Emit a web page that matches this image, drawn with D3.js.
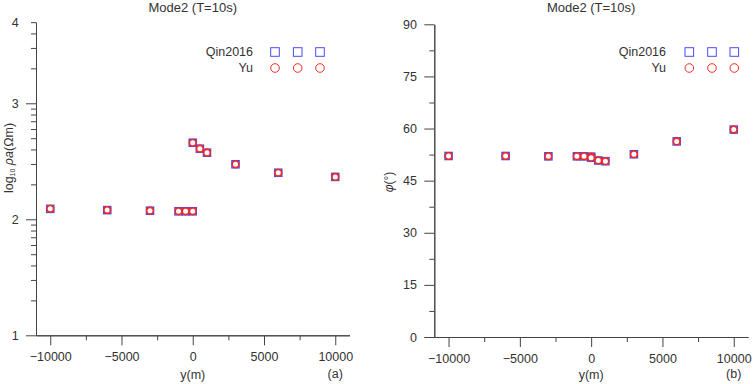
<!DOCTYPE html>
<html>
<head>
<meta charset="utf-8">
<script src="https://cdn.jsdelivr.net/npm/d3@7"></script>
<style>
  body { margin: 0; background: #fff; }
  svg text { font-family: "Liberation Sans", Arial, sans-serif; fill: #333; }
</style>
</head>
<body>
<svg id="chart" width="754" height="384"></svg>
<script>
// ---- data ----
const title = "Mode2 (T=10s)";
const yPositions = [-10000, -6000, -3000, -1000, -500, 0, 0, 500, 1000, 3000, 6000, 10000];
const rhoQin2016 = [123, 120, 118.6, 117.2, 117.2, 117.2, 457, 406, 375, 298, 252, 232];
const rhoYu      = [123, 120, 118.6, 117.2, 117.2, 117.2, 457, 406, 375, 298, 252, 232];
const phaseQin2016 = [52.1, 52.1, 52.0, 52.0, 52.0, 51.9, 51.6, 50.8, 50.6, 52.6, 56.3, 59.7];
const phaseYu      = [52.1, 52.1, 52.0, 52.0, 52.0, 51.9, 51.6, 50.8, 50.6, 52.6, 56.3, 59.7];
const xTicks = [-10000, -5000, 0, 5000, 10000];
const xMinorTicks = [-7500, -2500, 2500, 7500];
const rhoTicks = [10, 100, 1000, 5000];
const rhoTickLabels = ["1", "2", "3", "4"];
const rhoMinorTicks = [20,30,40,50,60,70,80,90,200,300,400,500,600,700,800,900,2000,3000,4000];
const phaseTicks = [0, 15, 30, 45, 60, 75, 90];
const phaseMinorTicks = [7.5, 22.5, 37.5, 52.5, 67.5, 82.5];
const seriesNames = ["Qin2016", "Yu"];

const svg = d3.select("#chart");
const axisColor = "#444";
const blue = "#4b4bf0";
const red = "#f02a2a";

function panel(opts) {
  const g = svg.append("g");
  const x = d3.scaleLinear().domain([-11000, 11000]).range([opts.left, opts.right]);
  const y = opts.y;

  // x axis
  const xa = g.append("g").attr("transform", `translate(0,${opts.bottom})`)
    .call(d3.axisBottom(x).tickValues(xTicks).tickSize(10).tickSizeOuter(0).tickFormat(d3.format("d")));
  xa.selectAll("text").attr("font-size", 12.5).attr("dy", "1.0em");
  g.append("g").attr("transform", `translate(0,${opts.bottom})`)
    .call(d3.axisBottom(x).tickValues(xMinorTicks).tickSize(5).tickSizeOuter(0).tickFormat(""));

  // y axis
  const ya = g.append("g").attr("transform", `translate(${opts.left},0)`)
    .call(d3.axisLeft(y).tickValues(opts.yTicks).tickSize(10).tickSizeOuter(0)
      .tickFormat((d, i) => opts.yLabels ? opts.yLabels[i] : d));
  ya.selectAll("text").attr("font-size", 12.5).attr("dx", "-0.35em");
  if (opts.shortTick) {
    ya.selectAll(".tick line").filter(d => d === opts.shortTick).attr("x2", -5);
  }
  g.append("g").attr("transform", `translate(${opts.left},0)`)
    .call(d3.axisLeft(y).tickValues(opts.yMinor).tickSize(5).tickSizeOuter(0).tickFormat(""));

  g.selectAll(".domain").attr("stroke", axisColor);
  g.selectAll(".tick line").attr("stroke", axisColor);
  g.selectAll(".tick text").style("fill", "#333");

  // title
  g.append("text").attr("x", x(0)).attr("y", 12).attr("text-anchor", "middle")
    .attr("font-size", 13).text(title);
  // x label
  g.append("text").attr("x", x(0)).attr("y", 379).attr("text-anchor", "middle")
    .attr("font-size", 12.5).text("y(m)");
  g.append("text").attr("x", x(10000)).attr("y", 378).attr("text-anchor", "middle")
    .attr("font-size", 12.5).text(opts.tag);

  // y label
  opts.yLabel(g);

  // data
  const pts = yPositions.map((p, i) => ({ p, a: opts.s1[i], b: opts.s2[i] }));
  g.selectAll("rect.q").data(pts).join("rect").attr("class", "q")
    .attr("x", d => x(d.p) - 3.6).attr("y", d => y(d.a) - 3.6)
    .attr("width", 7.2).attr("height", 7.2)
    .attr("fill", "none").attr("stroke", blue).attr("stroke-width", 1.4);
  g.selectAll("circle.yu").data(pts).join("circle").attr("class", "yu")
    .attr("cx", d => x(d.p)).attr("cy", d => y(d.b)).attr("r", 3.3)
    .attr("fill", "#fff").attr("stroke", red).attr("stroke-width", 1.6);

  // legend
  const lg = g.append("g");
  const rows = [52, 68];
  lg.selectAll("text.lt").data(seriesNames).join("text")
    .attr("x", opts.legendText).attr("y", (d, i) => rows[i]).attr("dy", "0.35em")
    .attr("text-anchor", "end").attr("font-size", 12.5).text(d => d);
  opts.legendMarks.forEach(mx => {
    lg.append("rect").attr("x", mx - 4.3).attr("y", rows[0] - 4.3).attr("width", 8.6).attr("height", 8.6)
      .attr("fill", "none").attr("stroke", blue).attr("stroke-width", 1);
    lg.append("circle").attr("cx", mx).attr("cy", rows[1]).attr("r", 4.3)
      .attr("fill", "none").attr("stroke", red).attr("stroke-width", 1);
  });
}

// Left panel: apparent resistivity
const yRho = d3.scaleLog().domain([10, 5000]).range([335.3, 22.2]);
panel({
  left: 36, right: 349.5, bottom: 335.3, y: yRho,
  yTicks: rhoTicks, yLabels: rhoTickLabels, yMinor: rhoMinorTicks, shortTick: 5000,
  s1: rhoQin2016, s2: rhoYu, tag: "(a)",
  legendText: 253, legendMarks: [275, 297.7, 320],
  yLabel: g => {
    const t = g.append("text").attr("transform", "translate(13,158) rotate(-90)")
      .attr("text-anchor", "middle").attr("font-size", 12.5);
    t.append("tspan").text("log");
    t.append("tspan").attr("font-size", 7).attr("dy", 2).text("10");
    t.append("tspan").attr("dy", -2).text(" ");
    t.append("tspan").attr("font-style", "italic").text("ρa");
    t.append("tspan").text("(Ωm)");
  }
});

// Right panel: phase
const yPhase = d3.scaleLinear().domain([0, 90]).range([337, 24.3]);
panel({
  left: 434.3, right: 748, bottom: 337, y: yPhase,
  yTicks: phaseTicks, yMinor: phaseMinorTicks,
  s1: phaseQin2016, s2: phaseYu, tag: "(b)",
  legendText: 666, legendMarks: [689.3, 712, 734.3],
  yLabel: g => {
    const t = g.append("text").attr("transform", "translate(393,182) rotate(-90)")
      .attr("text-anchor", "middle").attr("font-size", 12);
    t.append("tspan").attr("font-style", "italic").text("φ");
    t.append("tspan").text("(°)");
  }
});
</script>
</body>
</html>
